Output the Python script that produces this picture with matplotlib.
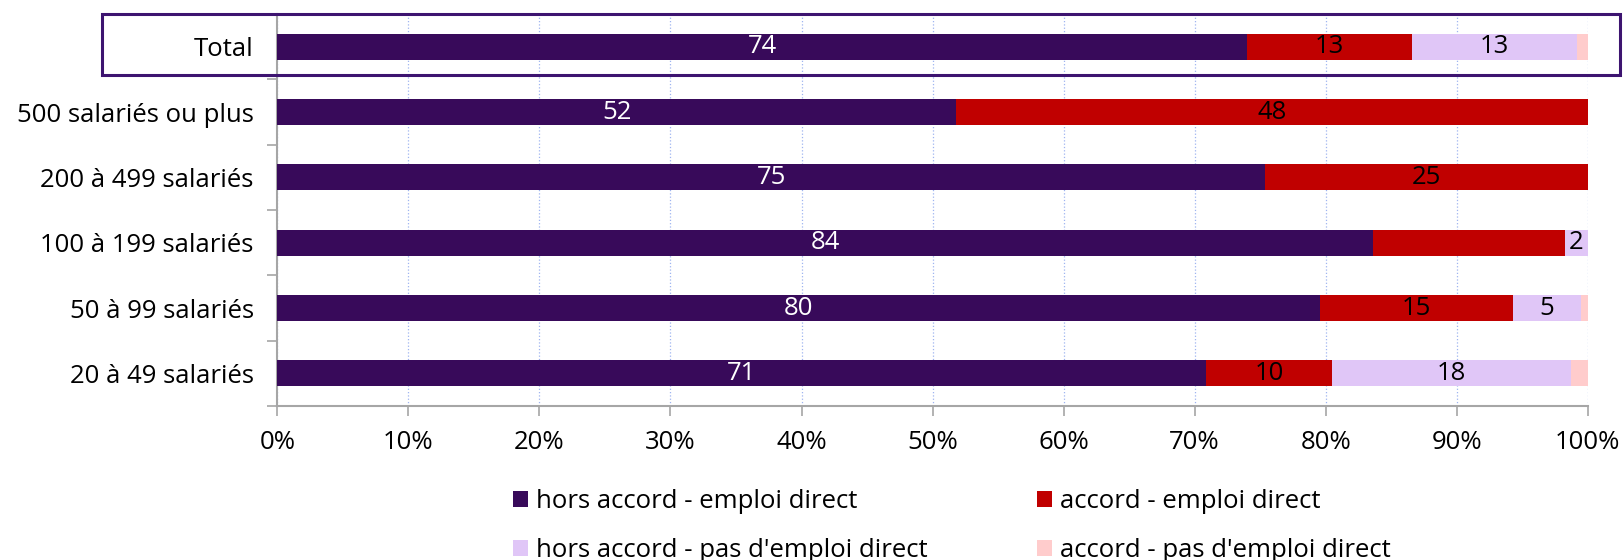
import matplotlib.pyplot as plt
import matplotlib.patches as mpatches
import numpy as np

plt.rcParams['font.family'] = ['Open Sans', 'DejaVu Sans']

categories = ["Total", "500 salariés ou plus", "200 à 499 salariés",
              "100 à 199 salariés", "50 à 99 salariés", "20 à 49 salariés"]
series_names = ["hors accord - emploi direct", "accord - emploi direct",
                "hors accord - pas d'emploi direct", "accord - pas d'emploi direct"]
hors_emploi = [74.0, 51.8, 75.4, 83.6, 79.6, 70.9]
accord_emploi = [12.6, 48.2, 24.6, 14.7, 14.7, 9.6]
hors_pas_emploi = [12.6, 0.0, 0.0, 1.7, 5.2, 18.2]
accord_pas_emploi = [0.8, 0.0, 0.0, 0.0, 0.5, 1.3]
# labels that are not printed on the original (series index, category index)
hidden_labels = [(1, 3)]

colors = ['#380a5a', '#c00000', '#e0c6f7', '#ffcccc']
text_colors = ['white', 'black', 'black', 'black']
fs = 18.5

fig = plt.figure(figsize=(16.23, 5.6), dpi=100)
ax = fig.add_axes([277.4 / 1623, 1 - 406 / 560, (1587.7 - 277.4) / 1623, 392 / 560])

y = np.arange(len(categories))
left = np.zeros(len(categories))
handles = []
for s, vals in enumerate([hors_emploi, accord_emploi, hors_pas_emploi, accord_pas_emploi]):
    vals = np.array(vals)
    b = ax.barh(y, vals, left=left, height=0.4, color=colors[s], label=series_names[s], zorder=3)
    handles.append(b)
    for i, v in enumerate(vals):
        if v >= 1.5 and (s, i) not in hidden_labels:
            ax.text(left[i] + v / 2, y[i], f"{v:.0f}", ha='center', va='center',
                    color=text_colors[s], fontsize=fs, zorder=4)
    left += vals

ax.set_ylim(len(categories) - 0.5, -0.5)
ax.set_xlim(0, 100)
ax.set_yticks(y)
ax.set_yticklabels(categories, fontsize=fs)
ax.set_yticks(np.arange(-0.5, len(categories)), minor=True)
ax.tick_params(axis='y', which='major', length=0, pad=17)
ax.tick_params(axis='y', which='minor', length=7, color='#a6a6a6', width=1.2, direction='out')
ax.set_xticks(np.arange(0, 101, 10))
ax.set_xticklabels([f"{t}%" for t in range(0, 101, 10)], fontsize=fs)
ax.tick_params(axis='x', length=7, color='#a6a6a6', width=1.2, pad=10)

ax.grid(axis='x', color='#9fb4f0', linestyle=':', linewidth=0.9, zorder=0)
for side in ['top', 'right']:
    ax.spines[side].set_visible(False)
for side in ['left', 'bottom']:
    ax.spines[side].set_color('#a6a6a6')
    ax.spines[side].set_linewidth(1.5)

# frame around the Total row
box = mpatches.Rectangle((102 / 1623, 1 - 75 / 560), (1620 - 102) / 1623, 61.5 / 560,
                         transform=fig.transFigure, fill=False, edgecolor='#3d1470',
                         linewidth=2.2, zorder=10)
fig.patches.append(box)

order = [0, 2, 1, 3]
fig.legend([handles[k] for k in order], [series_names[k] for k in order],
           loc='upper left', bbox_to_anchor=(500 / 1623, 1 - 476 / 560), ncol=2,
           frameon=False, fontsize=fs, borderpad=0, handlelength=0.6, handleheight=0.6,
           handletextpad=0.3, labelspacing=0.95, columnspacing=4.25)

plt.savefig('out.png', dpi=100)
